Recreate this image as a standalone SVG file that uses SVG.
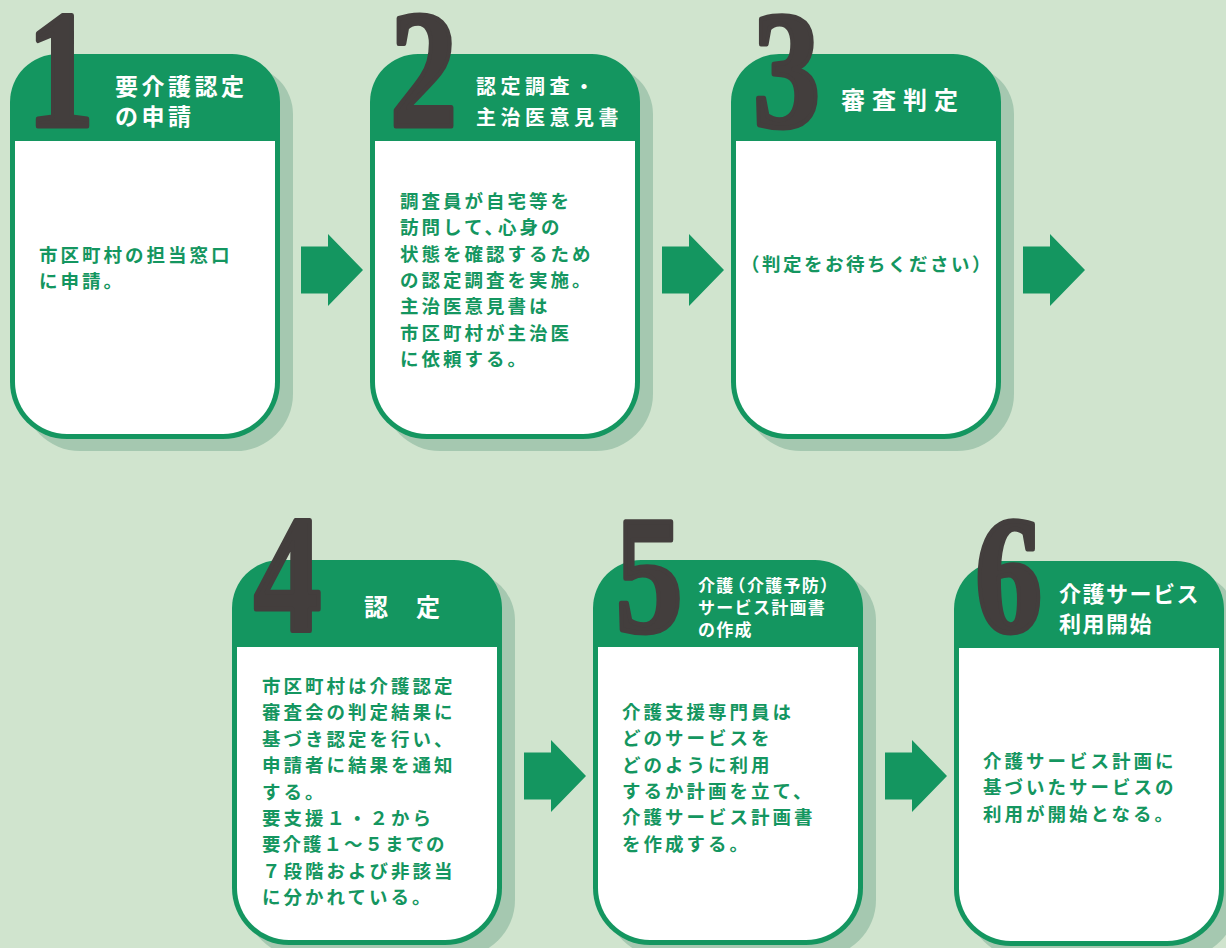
<svg xmlns="http://www.w3.org/2000/svg" xmlns:xlink="http://www.w3.org/1999/xlink" width="1226" height="948" viewBox="0 0 1226 948">
<style>
.bg{fill:#d0e4ce}
.shadow{fill:#a5c8b0}
.head{fill:#149660}
.body{fill:#ffffff}
.num{font-family:"Liberation Serif","Times New Roman",serif;font-weight:700;font-size:168px;fill:#433e3d;stroke:#433e3d;stroke-width:5;stroke-linejoin:round;text-anchor:middle}
.ttl{font-family:"Noto Sans CJK JP","Noto Sans",sans-serif;font-weight:700;fill:#ffffff}
.txt{font-family:"Noto Sans CJK JP","Noto Sans",sans-serif;font-weight:700;font-size:18.5px;letter-spacing:3px;fill:#149660}
.arrow{fill:#149660}
</style>
<defs>
<path id="cardShape" d="M48,0 H222 A48,48 0 0 1 270,48 V328 A57,57 0 0 1 213,385 H57 A57,57 0 0 1 0,328 V48 A48,48 0 0 1 48,0 Z"/>
<path id="cardBody" d="M5,87 H265 V328 A52,52 0 0 1 213,380 H57 A52,52 0 0 1 5,328 Z"/>
<path id="arrowShape" d="M0,-23.5 H27 V-36 L62,0 L27,36 V23.5 H0 Z"/>
</defs>
<rect class="bg" x="0" y="0" width="1226" height="948"/>

<g id="connectors">
<use href="#arrowShape" class="arrow" x="301" y="270"/>
<use href="#arrowShape" class="arrow" x="662" y="270"/>
<use href="#arrowShape" class="arrow" x="1023" y="270"/>
<use href="#arrowShape" class="arrow" x="524" y="776"/>
<use href="#arrowShape" class="arrow" x="885" y="776"/>
</g>

<g id="step1">
<use href="#cardShape" class="shadow" x="23" y="66"/>
<use href="#cardShape" class="head" x="10" y="54"/>
<use href="#cardBody" class="body" x="10" y="54"/>
<text class="num" transform="translate(60.5,126) scale(0.8,1)">1</text>
<text class="ttl" style="font-size:23px;letter-spacing:3.5px"><tspan x="115" y="95">要介護認定</tspan><tspan x="115" y="125">の申請</tspan></text>
<text class="txt"><tspan x="39" y="262">市区町村の担当窓口</tspan><tspan x="39" y="288">に申請。</tspan></text>
</g>

<g id="step2">
<use href="#cardShape" class="shadow" x="383" y="66"/>
<use href="#cardShape" class="head" x="370" y="54"/>
<use href="#cardBody" class="body" x="370" y="54"/>
<text class="num" transform="translate(423.5,126) scale(0.8,1)">2</text>
<text class="ttl" style="font-size:20px;letter-spacing:4.5px"><tspan x="476" y="94">認定調査・</tspan><tspan x="476" y="125">主治医意見書</tspan></text>
<text class="txt"><tspan x="400" y="208">調査員が自宅等を</tspan><tspan x="400" y="234">訪問して、<tspan dx="-8">心身の</tspan></tspan><tspan x="400" y="261">状態を確認するため</tspan><tspan x="400" y="287">の認定調査を実施。</tspan><tspan x="400" y="313">主治医意見書は</tspan><tspan x="400" y="340">市区町村が主治医</tspan><tspan x="400" y="366">に依頼する。</tspan></text>
</g>

<g id="step3">
<use href="#cardShape" class="shadow" x="744" y="66"/>
<use href="#cardShape" class="head" x="731" y="54"/>
<use href="#cardBody" class="body" x="731" y="54"/>
<text class="num" transform="translate(786.5,126) scale(0.8,1)">3</text>
<text class="ttl" x="841" y="109" style="font-size:24px;letter-spacing:7px">審査判定</text>
<text class="txt" x="741" y="270.5" style="letter-spacing:2.5px">（判定をお待ちください）</text>
</g>

<g id="step4">
<use href="#cardShape" class="shadow" x="245" y="572"/>
<use href="#cardShape" class="head" x="232" y="560"/>
<use href="#cardBody" class="body" x="232" y="560"/>
<text class="num" transform="translate(287.5,631) scale(0.8,1)">4</text>
<text class="ttl" x="364" y="616" style="font-size:24px;letter-spacing:2px">認　定</text>
<text class="txt"><tspan x="262" y="693">市区町村は介護認定</tspan><tspan x="262" y="719">審査会の判定結果に</tspan><tspan x="262" y="746">基づき認定を行い、</tspan><tspan x="262" y="772">申請者に結果を通知</tspan><tspan x="262" y="799">する。</tspan><tspan x="262" y="825">要支援１・２から</tspan><tspan x="262" y="851" style="letter-spacing:2px">要介護１～５までの</tspan><tspan x="262" y="878">７段階および非該当</tspan><tspan x="262" y="904">に分かれている。</tspan></text>
</g>

<g id="step5">
<use href="#cardShape" class="shadow" x="606" y="572"/>
<use href="#cardShape" class="head" x="593" y="560"/>
<use href="#cardBody" class="body" x="593" y="560"/>
<text class="num" transform="translate(649,631) scale(0.8,1)">5</text>
<text class="ttl" style="font-size:17px;letter-spacing:1.3px"><tspan x="698" y="592">介護<tspan dx="-6">（</tspan>介護予防）</tspan><tspan x="698" y="613.5">サービス計画書</tspan><tspan x="698" y="635.5">の作成</tspan></text>
<text class="txt"><tspan x="622" y="719">介護支援専門員は</tspan><tspan x="622" y="745">どのサービスを</tspan><tspan x="622" y="772">どのように利用</tspan><tspan x="622" y="798">するか計画を立て、</tspan><tspan x="622" y="824">介護サービス計画書</tspan><tspan x="622" y="851">を作成する。</tspan></text>
</g>

<g id="step6">
<use href="#cardShape" class="shadow" x="967" y="573"/>
<use href="#cardShape" class="head" x="954" y="561"/>
<use href="#cardBody" class="body" x="954" y="561"/>
<text class="num" transform="translate(1008.5,631) scale(0.8,1)">6</text>
<text class="ttl" style="font-size:22px;letter-spacing:1.5px"><tspan x="1059" y="601.5">介護サービス</tspan><tspan x="1059" y="631.5">利用開始</tspan></text>
<text class="txt"><tspan x="983" y="767.5">介護サービス計画に</tspan><tspan x="983" y="794">基づいたサービスの</tspan><tspan x="983" y="820.5">利用が開始となる。</tspan></text>
</g>
</svg>
